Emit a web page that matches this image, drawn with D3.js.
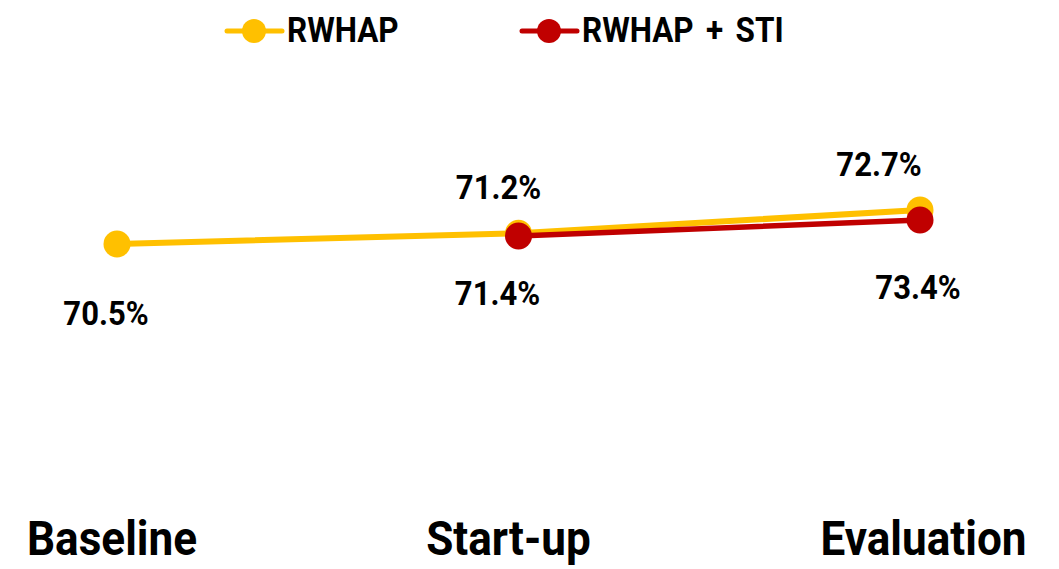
<!DOCTYPE html>
<html>
<head>
<meta charset="utf-8">
<script src="https://cdn.jsdelivr.net/npm/d3@7/dist/d3.min.js"></script>
<style>
  html, body { margin: 0; padding: 0; background: #fff; }
  svg { display: block; }
  text { font-family: Roboto, "Liberation Sans", sans-serif; font-weight: 700; fill: #000; }
</style>
</head>
<body>
<svg id="chart" width="1059" height="569"></svg>
<script>
// ---- data ----
const categories = ["Baseline", "Start-up", "Evaluation"];
const seriesNames = ["RWHAP", "RWHAP + STI"];
const rwhapValues = [70.5, 71.2, 72.7];
const rwhapStiValues = [null, 71.4, 73.4];
const rwhapLabels = ["70.5%", "71.2%", "72.7%"];
const rwhapStiLabels = [null, "71.4%", "73.4%"];

// ---- layout / style (not data) ----
const colors = ["#FFC000", "#C00000"];
const catLabelDx = [-5, -10, 3.5];
const lblOffRwhap = [[-11, 81], [-20, -34], [-41, -34]];
const lblOffSti = [null, [-21, 69], [-2, 79]];

const svg = d3.select("#chart");

const x = d3.scalePoint().domain(categories).range([117, 920]);
// primary axis (RWHAP) and secondary axis (RWHAP + STI)
const y1 = d3.scaleLinear().domain([70.5, 72.7]).range([244, 210]);
const y2 = d3.scaleLinear().domain([71.4, 73.4]).range([236, 220]);

function condensed(sel, sx) {
  sel.attr("transform", function() {
    const tx = +this.getAttribute("data-x"), ty = +this.getAttribute("data-y");
    return `translate(${tx},${ty}) scale(${sx},1)`;
  });
}

// category labels
svg.append("g").selectAll("text").data(categories).join("text")
  .attr("data-x", (d, i) => x(d) + catLabelDx[i])
  .attr("data-y", 555)
  .attr("text-anchor", "middle")
  .style("font-size", "49px")
  .text(d => d)
  .call(condensed, 0.9);

const series = [
  { name: seriesNames[0], values: rwhapValues, labels: rwhapLabels, y: y1, color: colors[0], width: 6, off: lblOffRwhap },
  { name: seriesNames[1], values: rwhapStiValues, labels: rwhapStiLabels, y: y2, color: colors[1], width: 5.5, off: lblOffSti }
];

series.forEach(s => {
  const pts = categories.map((c, i) => ({ c, v: s.values[i], l: s.labels[i], o: s.off[i] }))
    .filter(p => p.v != null);
  const line = d3.line().x(p => x(p.c)).y(p => s.y(p.v));
  const g = svg.append("g");
  g.append("path").datum(pts).attr("d", line)
    .attr("fill", "none").attr("stroke", s.color).attr("stroke-width", s.width)
    .attr("stroke-linecap", "round");
  g.selectAll("circle").data(pts).join("circle")
    .attr("cx", p => x(p.c)).attr("cy", p => s.y(p.v)).attr("r", 13.5)
    .attr("fill", s.color);
  s.pts = pts;
});

// data labels
series.forEach(s => {
  svg.append("g").selectAll("text").data(s.pts).join("text")
    .attr("data-x", p => x(p.c) + p.o[0])
    .attr("data-y", p => s.y(p.v) + p.o[1])
    .attr("text-anchor", "middle")
    .style("font-size", "33px")
    .text(p => p.l)
    .call(condensed, 0.94);
});

// legend
const legend = svg.append("g");
series.forEach((s, i) => {
  const ox = 227 + i * 295, oy = 31;
  const lg = legend.append("g");
  lg.append("line").attr("x1", ox).attr("x2", ox + 55).attr("y1", oy).attr("y2", oy)
    .attr("stroke", s.color).attr("stroke-width", 5).attr("stroke-linecap", "round");
  lg.append("circle").attr("cx", ox + 27).attr("cy", oy).attr("r", 12).attr("fill", s.color);
  lg.append("text").attr("data-x", ox + 60).attr("data-y", 42)
    .style("font-size", "34.6px").style("word-spacing", "5px").text(s.name)
    .call(condensed, 0.91);
});
</script>
</body>
</html>
